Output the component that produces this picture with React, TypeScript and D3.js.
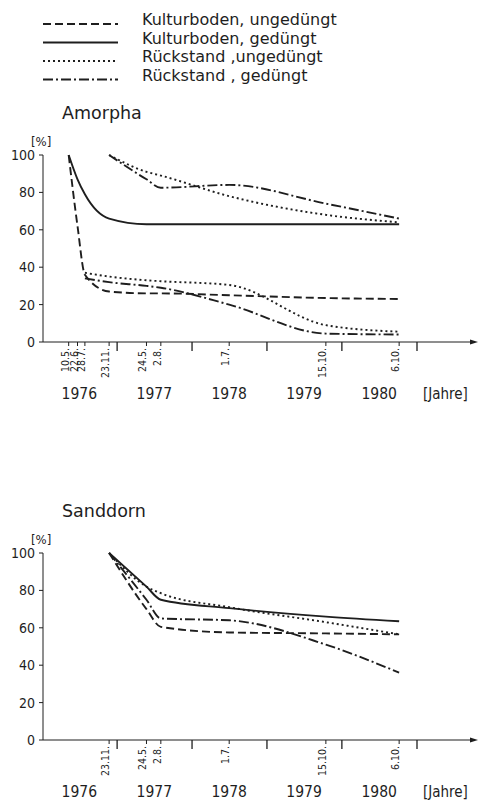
import React from "react";
import * as d3 from "d3";

// measurement dates and their axis labels
const dates = ["1976-05-10", "1976-06-22", "1976-07-28", "1976-11-23", "1977-05-24", "1977-08-02", "1978-07-01", "1979-10-15", "1980-10-06"];
const dateLabels = ["10.5.", "22.6.", "28.7.", "23.11.", "24.5.", "2.8.", "1.7.", "15.10.", "6.10."];
const years = ["1976", "1977", "1978", "1979", "1980"];
const yTicks = [0, 20, 40, 60, 80, 100];

const legendLabels = ["Kulturboden, ungedüngt", "Kulturboden, gedüngt", "Rückstand ,ungedüngt", "Rückstand , gedüngt"];
const styles = ["dashed", "solid", "dotted", "dashdot"];

// Amorpha (all 9 dates)
const amKulturUng = [100, 62, 36, 27, 26, 26, 25, 23.5, 23];
const amKulturGed = [100, 87, 79, 66, 63, 63, 63, 63, 63];
const amRueckUngA = [null, null, null, 100, 91, 89, 78, 68, 64];
const amRueckGedA = [null, null, null, 100, 87, 82.5, 84, 74, 66];
const amRueckUngB = [null, null, 37, 35, 33, 32.5, 30.5, 9, 5.5];
const amRueckGedB = [null, null, 34, 32, 30, 29, 20, 4.5, 4];

// Sanddorn (from 23.11.76 on)
const sdDates = dates.slice(3);
const sdLabels = dateLabels.slice(3);
const sdKulturUng = [100, 70, 60.5, 57.5, 57, 56.5];
const sdKulturGed = [100, 82, 75, 70.5, 66, 63.5];
const sdRueckUng = [100, 82, 78.5, 71, 63, 56.5];
const sdRueckGed = [100, 75, 65, 64, 51, 36];

const dash: Record<string, string | undefined> = {
  dashed: "8,4",
  solid: undefined,
  dotted: "2,3",
  dashdot: "10,3,2,3",
};

const ink = "#1e1e1e";
const font = "'DejaVu Sans', sans-serif";
const numFont = "'DejaVu Sans Condensed', 'DejaVu Sans', sans-serif";
const parse = d3.timeParse("%Y-%m-%d");

const x = d3.scaleTime()
  .domain([new Date(1976, 0, 1), new Date(1981, 0, 1)])
  .range([42, 417]);

type Series = { style: string, values: (number | null)[] };

const Chart = ({title, top, ds, labels, series}:
  {title: string, top: number, ds: string[], labels: string[], series: Series[]}) => {

  const y = d3.scaleLinear().domain([0, 100]).range([top + 187, top]);
  const x0 = 43;
  const xEnd = 475;
  const y0 = y(0);

  const line = d3.line<[Date, number | null]>()
    .defined(d => d[1] != null)
    .x(d => x(d[0]))
    .y(d => y(d[1] as number))
    .curve(d3.curveMonotoneX);

  return (
    <g>
      <text x={62} y={top - 36} fontSize={17.5} fontFamily={font} fill={ink}>{title}</text>
      <text x={31} y={top - 9} fontSize={13} fontFamily={numFont} fill={ink}>[%]</text>

      <line x1={x0} x2={x0} y1={y(100)} y2={y0} stroke={ink} strokeWidth={1} />
      {yTicks.map(t => (
        <g key={t}>
          <line x1={x0 - 4} x2={x0} y1={y(t)} y2={y(t)} stroke={ink} />
          <text x={x0 - 8} y={y(t)} dy="0.35em" textAnchor="end" fontSize={14} fontFamily={numFont} fill={ink}>{t}</text>
        </g>
      ))}

      <line x1={x0} x2={xEnd} y1={y0} y2={y0} stroke={ink} strokeWidth={1} />
      <path d={`M${xEnd + 3},${y0} l-8,-2.5 l0,5 z`} fill={ink} />
      {years.map(yr => {
        const xp = x(new Date(+yr + 1, 0, 1));
        return <line key={yr} x1={xp} x2={xp} y1={y0} y2={y0 + 9} stroke={ink} strokeWidth={1.3} />;
      })}
      {ds.map((d, i) => {
        const xp = x(parse(d) as Date);
        return (
          <g key={d}>
            <line x1={xp} x2={xp} y1={y0} y2={y0 + 4} stroke={ink} />
            <text transform={`translate(${xp},${y0 + 6}) rotate(-90)`} textAnchor="end"
              fontSize={10.5} fontFamily={numFont} fill={ink}>{labels[i]}</text>
          </g>
        );
      })}
      {years.map(yr => (
        <text key={yr} x={x(new Date(+yr, 6, 1))} y={y0 + 57} textAnchor="middle"
          fontSize={15.5} fontFamily={numFont} fill={ink}>{yr}</text>
      ))}
      <text x={x(new Date(1981, 0, 1)) + 6} y={y0 + 57} fontSize={15} fontFamily={numFont} fill={ink}>[Jahre]</text>

      {series.map((s, i) => (
        <path key={i}
          d={line(s.values.map((v, j) => [parse(ds[j]) as Date, v])) || ""}
          fill="none" stroke={ink} strokeWidth={1.9}
          strokeDasharray={dash[s.style]} />
      ))}
    </g>
  );
};

export default function App() {
  return (
    <svg width={485} height={803} style={{position: "absolute", left: 0, top: 0, background: "#fff"}}>
      <g>
        {legendLabels.map((l, i) => {
          const ly = 24 + i * 18.5;
          return (
            <g key={l}>
              <line x1={43} x2={118} y1={ly} y2={ly} stroke={ink} strokeWidth={1.8} strokeDasharray={dash[styles[i]]} />
              <text x={142} y={ly + 1} fontSize={16} fontFamily={font} fill={ink}>{l}</text>
            </g>
          );
        })}
      </g>
      <Chart title="Amorpha" top={155} ds={dates} labels={dateLabels} series={[
        {style: "dashed", values: amKulturUng},
        {style: "solid", values: amKulturGed},
        {style: "dotted", values: amRueckUngA},
        {style: "dashdot", values: amRueckGedA},
        {style: "dotted", values: amRueckUngB},
        {style: "dashdot", values: amRueckGedB},
      ]} />
      <Chart title="Sanddorn" top={553} ds={sdDates} labels={sdLabels} series={[
        {style: "dashed", values: sdKulturUng},
        {style: "solid", values: sdKulturGed},
        {style: "dotted", values: sdRueckUng},
        {style: "dashdot", values: sdRueckGed},
      ]} />
    </svg>
  );
}
